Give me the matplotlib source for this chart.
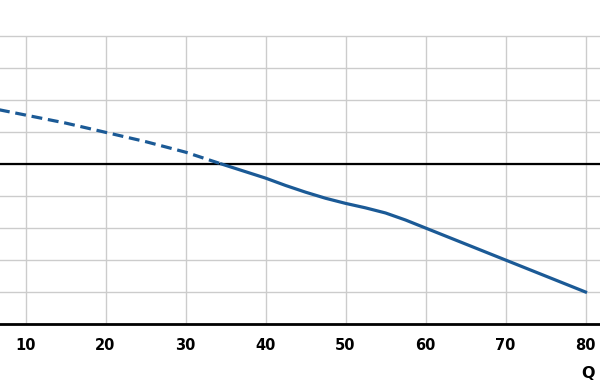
import matplotlib
matplotlib.use("Agg")
import matplotlib.pyplot as plt

# pump curve (Q vs head, grid units)
dash_q = [5, 10, 15, 20, 25, 30, 34.5]
dash_h = [6.78, 6.53, 6.28, 5.99, 5.70, 5.37, 5.0]

solid_q = [34.5, 37, 40, 42.5, 45, 47.5, 50, 52.5, 55, 57.5, 60, 65, 70, 75, 80]
solid_h = [5.0, 4.8, 4.56, 4.33, 4.12, 3.93, 3.77, 3.63, 3.47, 3.25, 3.0, 2.5, 2.0, 1.5, 1.0]

xticks = [10, 20, 30, 40, 50, 60, 70, 80]
yticks = [0, 1, 2, 3, 4, 5, 6, 7, 8, 9]

blue = '#1b5a96'

fig = plt.figure(figsize=(6, 3.86), dpi=100)
ax = fig.add_axes([0, 62/386, 1, 288/386])

ax.set_xlim(54.5/8, 654.5/8)
ax.set_ylim(0, 9)

ax.set_xticks(xticks)
ax.set_yticks(yticks)
ax.grid(True, color='#cccccc', linewidth=1.0)
for gl in ax.get_ygridlines():
    gl.set_clip_on(False)
ax.set_axisbelow(True)

for s in ['left', 'right', 'top']:
    ax.spines[s].set_visible(False)
ax.spines['bottom'].set_linewidth(2.0)
ax.spines['bottom'].set_color('black')

ax.axhline(5, color='black', linewidth=1.6, zorder=2)

ax.plot(dash_q, dash_h, color=blue, linewidth=2.3, linestyle=(0, (3.4, 1.8)),
        solid_capstyle='butt', zorder=3)
ax.plot(solid_q, solid_h, color=blue, linewidth=2.3, zorder=3)

ax.tick_params(axis='x', length=0, pad=10, labelsize=10.5)
ax.tick_params(axis='y', length=0, labelleft=False)
for lab in ax.get_xticklabels():
    lab.set_fontweight('bold')

fig.text(588/600, 1 - 373/386, 'Q', ha='center', va='center',
         fontsize=11.5, fontweight='bold')

fig.savefig('out.png', dpi=100)
